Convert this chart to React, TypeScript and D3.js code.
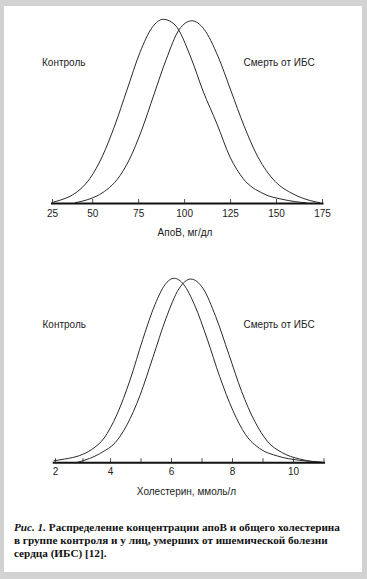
import React from 'react';
import * as d3 from 'd3';

// ---------- data ----------
// Top panel: apoB, mg/dl  -> relative frequency (% of peak)
const apoTicks = [25, 50, 75, 100, 125, 150, 175];
const apoControl: [number, number][] = [
  [24.7, 0.5], [29.7, 1.8], [35.9, 3.9], [42.1, 7.6], [48.3, 13.6], [55.1, 25.3],
  [62.1, 42.6], [68.7, 61.8], [75.7, 82], [82.3, 95.5], [88.4, 100], [94.8, 96.9],
  [103.5, 79], [110, 61.1], [117.6, 43.2], [124.7, 25.2], [131.8, 13.6], [142.7, 5.4],
  [153.5, 2.2], [166.4, 0.3],
];
const apoDeath: [number, number][] = [
  [39, 0.4], [46.5, 2], [52.3, 4.1], [57.8, 7.6], [63.3, 13], [69.8, 23.6],
  [76.8, 40.3], [83.3, 59.1], [89.9, 78], [97.1, 94.5], [103.9, 99.2], [110.5, 94.7],
  [118.1, 80], [125.2, 61.2], [132.3, 42.2], [139.9, 25.2], [149.2, 12], [159, 5.2],
  [168.3, 1.6], [173.7, 0.4],
];

// Bottom panel: cholesterol, mmol/l -> relative frequency (% of peak)
const cholTicks = [2, 3, 4, 5, 6, 7, 8, 9, 10, 11];
const cholLabels = [2, 4, 6, 8, 10];
const cholControl: [number, number][] = [
  [1.93, 1.0], [2.34, 2.0], [2.88, 3.9], [3.32, 7.2], [3.77, 13.4], [4.21, 26.1],
  [4.64, 44.8], [5.06, 67], [5.46, 85.8], [5.78, 96.4], [6.09, 100], [6.4, 96.6],
  [6.76, 85.4], [7.16, 67.6], [7.58, 46.7], [8.01, 28.4], [8.43, 15.2], [8.89, 7.7],
  [9.48, 3.6], [10.2, 1.3], [10.92, 0.3],
];
const cholDeath: [number, number][] = [
  [2.77, 0.1], [3.24, 2.3], [3.71, 5.8], [4.15, 10.8], [4.54, 20.5], [4.97, 36.6],
  [5.39, 57.1], [5.82, 78.3], [6.24, 94.2], [6.63, 99.6], [7.03, 94.6], [7.45, 79.2],
  [7.88, 58.8], [8.3, 38.6], [8.73, 22.4], [9.15, 11.5], [9.61, 5.6], [10.2, 2.0],
  [11.02, 0.1],
];

const groupLabels = ['Контроль', 'Смерть от ИБС'];
const titles = ['АпоВ, мг/дл', 'Холестерин, ммоль/л'];

const SANS = "'Liberation Sans', Arial, sans-serif";
const SERIF = "'Liberation Serif', 'Times New Roman', serif";

export default function App() {
  const W = 367;
  const H = 579;

  const xTop = d3.scaleLinear().domain([25, 50, 175]).range([52.5, 92.7, 322.5]);
  const yTop = d3.scaleLinear().domain([0, 100]).range([203.5, 19.3]);
  const xBot = d3.scaleLinear().domain([2, 4, 11]).range([55.5, 110.5, 324]);
  const yBot = d3.scaleLinear().domain([0, 100]).range([462.7, 278.3]);

  const lineTop = d3
    .line<[number, number]>()
    .x((d) => xTop(d[0]))
    .y((d) => yTop(d[1]))
    .curve(d3.curveMonotoneX);
  const lineBot = d3
    .line<[number, number]>()
    .x((d) => xBot(d[0]))
    .y((d) => yBot(d[1]))
    .curve(d3.curveMonotoneX);

  const curveStyle = { fill: 'none', stroke: '#2a2a2a', strokeWidth: 1 };
  const labelStyle = { fontFamily: SANS, fontSize: 10, fill: '#222' };

  const axisTopY = yTop(0);
  const axisBotY = yBot(0);

  return (
    <svg
      width={W}
      height={H}
      style={{ position: 'absolute', left: 0, top: 0, display: 'block' }}
    >
      <rect x={0} y={0} width={W} height={H} fill="#d2d2d2" />
      <rect x={4} y={6} width={358} height={566} fill="#ffffff" />

      {/* ---------- top panel ---------- */}
      <path d={lineTop(apoControl) || ''} {...curveStyle} />
      <path d={lineTop(apoDeath) || ''} {...curveStyle} />
      <line x1={51} x2={323.5} y1={axisTopY} y2={axisTopY} stroke="#111" strokeWidth={2} />
      {apoTicks.map((t) => (
        <g key={'ta' + t}>
          <line x1={xTop(t)} x2={xTop(t)} y1={axisTopY} y2={axisTopY - 4.5} stroke="#222" strokeWidth={0.8} />
          <text x={xTop(t)} y={axisTopY + 13} textAnchor="middle" {...labelStyle}>
            {t}
          </text>
        </g>
      ))}
      <text x={185} y={235.5} textAnchor="middle" {...labelStyle}>
        {titles[0]}
      </text>
      <text x={42} y={65.5} {...labelStyle}>
        {groupLabels[0]}
      </text>
      <text x={243.5} y={65.5} {...labelStyle}>
        {groupLabels[1]}
      </text>

      {/* ---------- bottom panel ---------- */}
      <path d={lineBot(cholControl) || ''} {...curveStyle} />
      <path d={lineBot(cholDeath) || ''} {...curveStyle} />
      <line x1={52.7} x2={325} y1={axisBotY} y2={axisBotY} stroke="#111" strokeWidth={2} />
      {cholTicks.map((t) => (
        <line
          key={'tb' + t}
          x1={xBot(t)}
          x2={xBot(t)}
          y1={axisBotY}
          y2={axisBotY - 4.5}
          stroke="#222"
          strokeWidth={0.8}
        />
      ))}
      {cholLabels.map((t) => (
        <text key={'lb' + t} x={xBot(t)} y={axisBotY + 12} textAnchor="middle" {...labelStyle}>
          {t}
        </text>
      ))}
      <text x={186.5} y={494.5} textAnchor="middle" {...labelStyle}>
        {titles[1]}
      </text>
      <text x={42.5} y={327.5} {...labelStyle}>
        {groupLabels[0]}
      </text>
      <text x={243.5} y={327.5} {...labelStyle}>
        {groupLabels[1]}
      </text>

      {/* ---------- caption ---------- */}
      <g style={{ fontFamily: SERIF, fontSize: 11.2, fontWeight: 'bold', fill: '#111' }}>
        <text x={14} y={531}>
          <tspan fontStyle="italic">Рис. 1.</tspan> Распределение концентрации апоВ и общего холестерина
        </text>
        <text x={14} y={544}>в группе контроля и у лиц, умерших от ишемической болезни</text>
        <text x={14} y={557}>сердца (ИБС) [12].</text>
      </g>
    </svg>
  );
}
